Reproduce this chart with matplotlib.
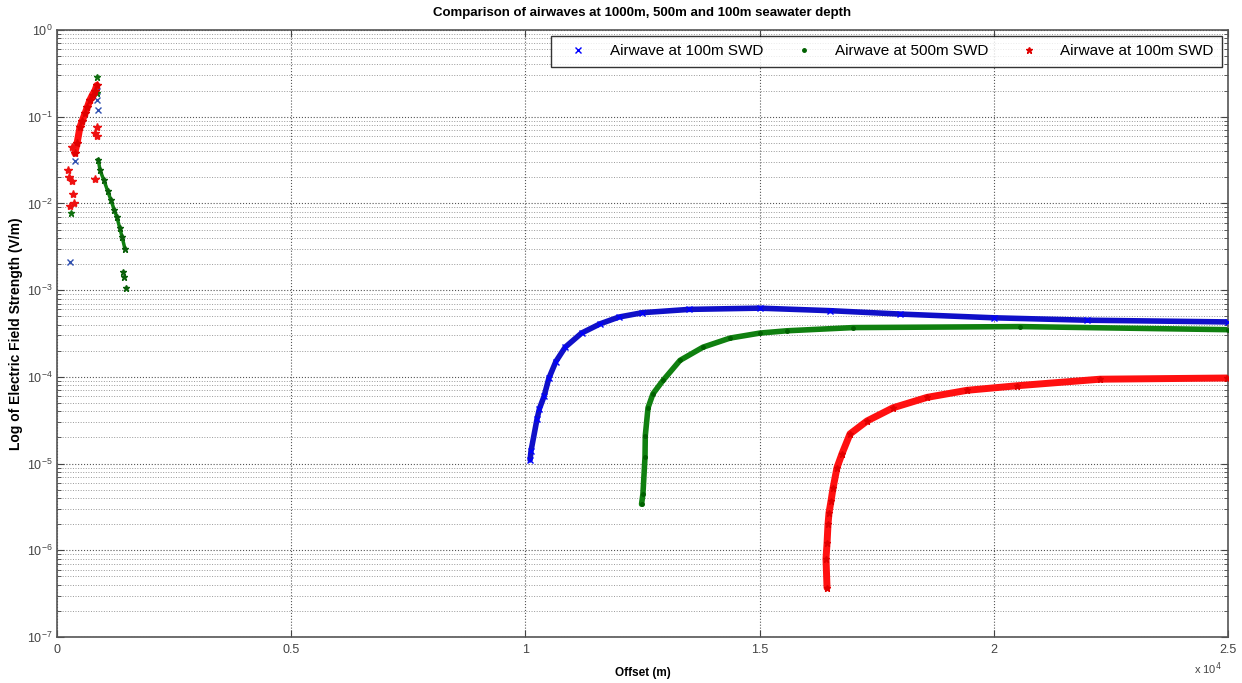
import numpy as np
import matplotlib.pyplot as plt
from matplotlib.ticker import LogLocator, NullFormatter

# far-field points (offset in m, field in V/m)
blue_x = [10100, 10120, 10250, 10300, 10400, 10500, 10650, 10850, 11200, 11600,
          12000, 12500, 13500, 15000, 16500, 18000, 20000, 22000, 25000]
blue_y = [1.1e-5, 1.4e-5, 3.3e-5, 4.3e-5, 6.0e-5, 9.6e-5, 1.5e-4, 2.2e-4, 3.2e-4, 4.1e-4,
          4.9e-4, 5.5e-4, 6.0e-4, 6.2e-4, 5.8e-4, 5.3e-4, 4.8e-4, 4.5e-4, 4.3e-4]

green_x = [12480, 12510, 12554, 12560, 12618, 12725, 12938, 13301, 13792, 14369,
           15009, 15586, 16995, 20560, 25000]
green_y = [3.4e-6, 4.5e-6, 1.2e-5, 2.1e-5, 4.4e-5, 6.4e-5, 9.1e-5, 1.55e-4, 2.2e-4, 2.8e-4,
           3.2e-4, 3.4e-4, 3.7e-4, 3.8e-4, 3.5e-4]

red_x = [16440, 16418, 16440, 16461, 16482, 16525, 16568, 16653, 16760, 16931,
         17294, 17849, 18575, 19429, 20496, 22268, 24980]
red_y = [3.7e-7, 8.0e-7, 1.2e-6, 2.0e-6, 2.7e-6, 3.7e-6, 5.2e-6, 9.0e-6, 1.3e-5, 2.2e-5,
         3.1e-5, 4.4e-5, 5.8e-5, 7.0e-5, 7.9e-5, 9.4e-5, 9.7e-5]

# near-field points
blue_nx = [280, 380, 854, 875, 850]
blue_ny = [2.1e-3, 3.1e-2, 0.155, 0.12, 0.2]

green_nx = [300, 854, 860]
green_ny = [7.7e-3, 0.29, 0.19]
# green descending branch
green_dx = [880, 920, 1000, 1080, 1150, 1220, 1280, 1340, 1390, 1450]
green_dy = [3.2e-2, 2.4e-2, 1.86e-2, 1.4e-2, 1.1e-2, 8.5e-3, 6.9e-3, 5.2e-3, 4.1e-3, 3.0e-3]
green_tx = [1400, 1420, 1480]
green_ty = [1.6e-3, 1.4e-3, 1.05e-3]

# red ascending band
red_bx = [380, 430, 490, 540, 600, 650, 700, 760, 810, 850]
red_by = [3.8e-2, 5.0e-2, 7.6e-2, 9.0e-2, 0.11, 0.13, 0.155, 0.18, 0.2, 0.23]
red_nx = [230, 250, 320, 340, 360, 330, 850, 850, 810, 810, 280]
red_ny = [2.4e-2, 2.0e-2, 1.8e-2, 1.3e-2, 1.0e-2, 4.5e-2, 7.6e-2, 6.0e-2, 6.5e-2, 1.9e-2, 9.4e-3]

xticks = [0, 5000, 10000, 15000, 20000, 25000]
xticklabels = ['0', '0.5', '1', '1.5', '2', '2.5']

plt.rcParams['font.family'] = ['Liberation Sans', 'DejaVu Sans']

fig = plt.figure(figsize=(12.42, 6.83), dpi=100)
ax = fig.add_axes([0.0459, 0.0673, 0.9428, 0.8888])

# blue (first series)
ax.plot(blue_x, blue_y, color='#1010c8', lw=4, solid_capstyle='round', zorder=2)
ax.plot(blue_x, blue_y, 'x', color='#0000ff', ms=4, zorder=3,
        label='Airwave at 100m SWD')
ax.plot(blue_nx, blue_ny, 'x', color='#3050b0', ms=4, zorder=3)

# green
ax.plot(green_x, green_y, color='#108010', lw=4, solid_capstyle='round', zorder=2)
ax.plot(green_x, green_y, '.', color='#006000', ms=5, zorder=3,
        label='Airwave at 500m SWD')
ax.plot(green_nx, green_ny, '*', color='#107010', ms=5, zorder=3)
ax.plot(green_dx, green_dy, '-', color='#108010', lw=2.5, zorder=2)
ax.plot(green_dx, green_dy, '*', color='#0a600a', ms=5, zorder=3)
ax.plot(green_tx, green_ty, '*', color='#0a600a', ms=5, zorder=3)

# red
ax.plot(red_x, red_y, color='#ff1010', lw=5, solid_capstyle='round', zorder=2)
ax.plot(red_x, red_y, '*', color='#e00000', ms=5, zorder=3,
        label='Airwave at 100m SWD')
ax.plot(red_bx, red_by, '-', color='#ff1010', lw=5, solid_capstyle='round', zorder=2)
ax.plot(red_bx, red_by, '*', color='#e00000', ms=6, zorder=3)
ax.plot(red_nx, red_ny, '*', color='#ee1010', ms=6, zorder=3)

ax.set_yscale('log')
ax.set_ylim(1e-7, 1)
ax.set_xlim(0, 25000)
ax.set_xticks(xticks)
ax.set_xticklabels(xticklabels)
ax.yaxis.set_major_locator(LogLocator(base=10, numticks=10))
ax.yaxis.set_minor_locator(LogLocator(base=10, subs=np.arange(2, 10), numticks=10))
ax.yaxis.set_minor_formatter(NullFormatter())

ax.grid(True, which='major', axis='both', linestyle=':', color='#555555', lw=0.8)
ax.grid(True, which='minor', axis='y', linestyle=':', color='#999999', lw=0.7)
ax.tick_params(which='both', direction='in', top=True, right=True, labelsize=9,
               colors='#444444')
ax.tick_params(which='major', length=5, pad=5)
ax.tick_params(axis='y', which='major', pad=3)
ax.tick_params(which='minor', length=3)
for s in ax.spines.values():
    s.set_color('#555555')
    s.set_linewidth(1.2)

ax.set_title('Comparison of airwaves at 1000m, 500m and 100m seawater depth',
             fontsize=9.5, fontweight='bold', pad=10)
ax.set_xlabel('Offset (m)', fontsize=8.5, fontweight='bold', labelpad=8)
ax.set_ylabel('Log of Electric Field Strength (V/m)', fontsize=10, fontweight='bold',
              labelpad=3)
ax.text(0.995, -0.052, r'x 10$^4$', transform=ax.transAxes, ha='right', va='center',
        fontsize=8, color='#444444')

leg = ax.legend(loc='upper right', ncol=3, fontsize=11, frameon=True,
                fancybox=False, edgecolor='black', borderpad=0.55,
                handlelength=2.5, columnspacing=1.4, borderaxespad=0.4)
leg.get_frame().set_linewidth(1.0)

fig.savefig('out.png', dpi=100)
